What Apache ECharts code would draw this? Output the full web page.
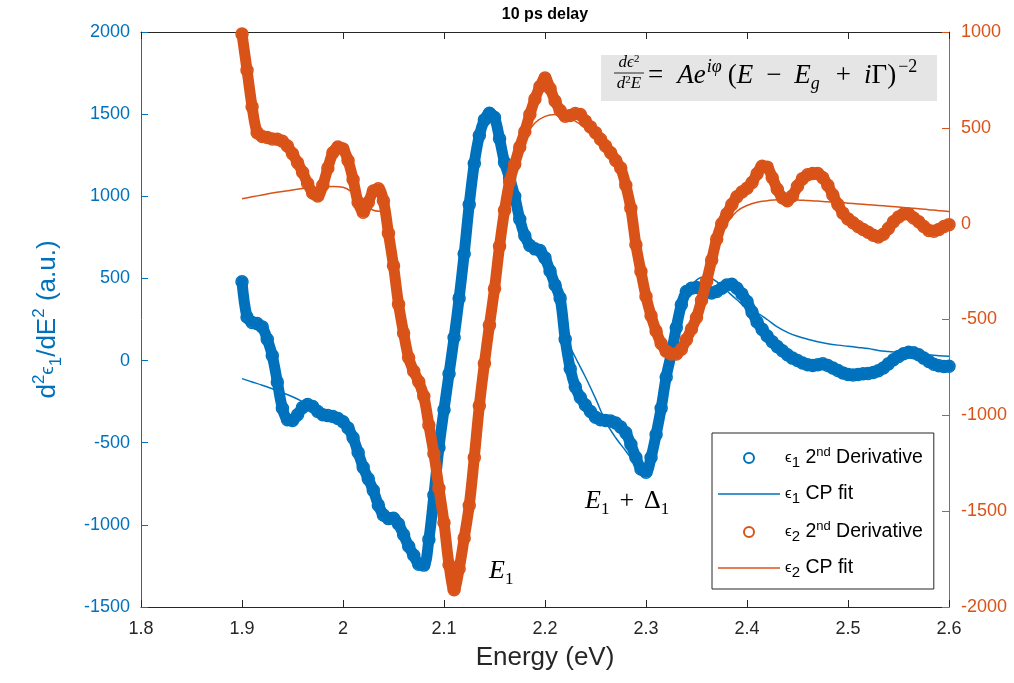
<!DOCTYPE html>
<html>
<head>
<meta charset="utf-8">
<title>10 ps delay</title>
<script src="https://cdn.jsdelivr.net/npm/echarts@6/dist/echarts.min.js"></script>
<style>
  html, body { margin: 0; padding: 0; background: #ffffff; }
  #chart { width: 1014px; height: 683px; }
</style>
</head>
<body>
<div id="chart"></div>
<script>
// ---- second-derivative spectra, one value every 5 meV from 1.900 eV ----
const dataStart = 1.9;
const dataStep = 0.005;

// d²ε1/dE² (left axis)
const eps1Deriv = [
  480, 265, 232, 225, 205, 130, 30, -130, -290, -360,
  -365, -330, -285, -268, -280, -310, -330, -335, -340, -352,
  -372, -410, -470, -560, -650, -720, -790, -880, -940, -962,
  -960, -995, -1060, -1130, -1185, -1240, -1245, -1090, -820, -530,
  -300, -80, 140, 380, 650, 950, 1200, 1370, 1465, 1505,
  1480, 1350, 1205, 1110, 1000, 860, 760, 700, 680, 670,
  625, 545, 460, 380, 130, -50, -160, -225, -270, -310,
  -345, -360, -365, -368, -380, -405, -440, -510, -590, -660,
  -680, -590, -450, -290, -100, 40, 200, 340, 420, 440,
  445, 440, 425, 412, 420, 440, 460, 465, 440, 405,
  360, 295, 235, 190, 150, 115, 85, 60, 35, 15,
  0, -15, -25, -30, -25, -20, -30, -45, -60, -75,
  -85, -88, -85, -80, -78, -72, -62, -45, -20, 5,
  25, 42, 50, 48, 35, 15, -5, -22, -32, -36,
  -35
];

// d²ε2/dE² (right axis)
const eps2Deriv = [
  990, 800, 610, 475, 455, 450, 442, 440, 430, 405,
  365, 318, 268, 210, 160, 145, 200, 290, 370, 400,
  390, 330, 230, 110, 60, 110, 170, 182, 120, -50,
  -220, -420, -570, -700, -770, -825, -900, -1050, -1200, -1380,
  -1560, -1780, -1910, -1800, -1640, -1470, -1220, -950, -730, -530,
  -340, -118, 70, 220, 310, 400, 480, 570, 650, 715,
  760, 705, 640, 590, 560, 565, 575, 570, 535, 505,
  475, 440, 405, 370, 330, 290, 200, 80, -110, -250,
  -380, -480, -560, -625, -665, -680, -680, -655, -605, -550,
  -490, -400, -300, -190, -80, 0, 50, 100, 140, 165,
  185, 215, 260, 300, 295, 240, 180, 135, 120, 145,
  195, 235, 255, 262, 262, 240, 200, 150, 100, 55,
  25, 5, -15, -30, -45, -60, -70, -55, -25, 10,
  35, 50, 50, 30, 10, -15, -35, -40, -30, -15,
  -5
];

// ---- critical-point fits, one value every 10 meV from 1.90 eV ----
const fitStart = 1.9;
const fitStep = 0.01;

const eps1Fit = [
  -110, -130, -150, -172, -195, -220, -250, -285, -320, -360,
  -400, -480, -600, -740, -880, -1000, -1110, -1200, -1240, -820,
  -300, 150, 680, 1200, 1460, 1470, 1230, 1000, 800, 660,
  560, 380, 150, 20, -100, -230, -370, -470, -550, -630,
  -670, -450, -120, 200, 400, 490, 510, 480, 425, 370,
  320, 290, 250, 205, 172, 148, 130, 115, 103, 94,
  87, 80, 73, 62, 55, 49, 44, 39, 35, 30,
  26
];

const eps2Fit = [
  130, 140, 150, 160, 168, 176, 183, 188, 192, 194,
  190, 160, 110, 70, 60, -220, -540, -800, -1000, -1250,
  -1600, -1880, -1620, -1220, -730, -330, 50, 300, 450, 525,
  560, 570, 560, 535, 500, 455, 395, 310, 170, -80,
  -380, -580, -690, -700, -610, -460, -280, -120, 0, 65,
  95, 112, 120, 125, 125, 124, 121, 118, 114, 111,
  107, 103, 99, 95, 91, 87, 82, 78, 73, 68,
  64
];

// ---- axes ----
const energyMin = 1.8, energyMax = 2.6, energyInterval = 0.1;
const leftMin = -1500, leftMax = 2000, leftInterval = 500;
const rightMin = -2000, rightMax = 1000, rightInterval = 500;

const seriesNames = ['ϵ1 2nd Derivative', 'ϵ1 CP fit', 'ϵ2 2nd Derivative', 'ϵ2 CP fit'];
const legendLabels = [
  '{g|ϵ}{b|1}{t| 2}{p|nd}{t| Derivative}',
  '{g|ϵ}{b|1}{t| CP fit}',
  '{g|ϵ}{b|2}{t| 2}{p|nd}{t| Derivative}',
  '{g|ϵ}{b|2}{t| CP fit}'
];

const BLUE = '#0072BD';
const ORANGE = '#D95319';
const INK = '#262626';
const SANS = '"Liberation Sans", Arial, Helvetica, sans-serif';
const SERIF = '"Liberation Serif", "Times New Roman", serif';

function toPairs(start, step, values) {
  return values.map((v, i) => [Math.round((start + i * step) * 1000) / 1000, v]);
}

function derivSeries(name, color, yAxisIndex, values, z) {
  return {
    name: name,
    type: 'line',
    xAxisIndex: 0,
    yAxisIndex: yAxisIndex,
    data: toPairs(dataStart, dataStep, values),
    smooth: 0.35,
    showSymbol: true,
    showAllSymbol: true,
    symbol: 'circle',
    symbolSize: 12,
    itemStyle: { color: 'rgba(255,255,255,0)', borderColor: color, borderWidth: 1.5 },
    lineStyle: { color: color, width: 11, cap: 'round', join: 'round' },
    emphasis: { disabled: true },
    silent: true,
    animation: false,
    z: z
  };
}

function fitSeries(name, color, yAxisIndex, values, z) {
  return {
    name: name,
    type: 'line',
    xAxisIndex: 0,
    yAxisIndex: yAxisIndex,
    data: toPairs(fitStart, fitStep, values),
    smooth: 0.4,
    symbol: 'none',
    showSymbol: false,
    itemStyle: { color: color },
    lineStyle: { color: color, width: 1.5 },
    emphasis: { disabled: true },
    silent: true,
    animation: false,
    z: z
  };
}

const tickLabel = (color) => ({
  color: color, fontFamily: SANS, fontSize: 18, showMinLabel: true, showMaxLabel: true
});

const chart = echarts.init(document.getElementById('chart'), null, { renderer: 'canvas' });

chart.setOption({
  animation: false,
  backgroundColor: '#ffffff',
  grid: { left: 141, right: 65, top: 32, bottom: 76, containLabel: false, outerBoundsMode: 'none' },
  xAxis: [
    {
      type: 'value', position: 'bottom',
      min: energyMin, max: energyMax, interval: energyInterval,
      axisLine: { show: true, onZero: false, lineStyle: { color: INK, width: 1 } },
      axisTick: { show: true, inside: true, length: 7, lineStyle: { color: INK, width: 1 } },
      axisLabel: Object.assign(tickLabel(INK), { margin: 13, formatter: v => String(+v.toFixed(1)) }),
      splitLine: { show: false },
      name: 'Energy (eV)', nameLocation: 'middle', nameGap: 38,
      nameTextStyle: { color: INK, fontFamily: SANS, fontSize: 26 }
    },
    {
      type: 'value', position: 'top',
      min: energyMin, max: energyMax, interval: energyInterval,
      axisLine: { show: true, onZero: false, lineStyle: { color: INK, width: 1 } },
      axisTick: { show: true, inside: true, length: 7, lineStyle: { color: INK, width: 1 } },
      axisLabel: { show: false },
      splitLine: { show: false }
    }
  ],
  yAxis: [
    {
      type: 'value', position: 'left',
      min: leftMin, max: leftMax, interval: leftInterval,
      axisLine: { show: true, onZero: false, lineStyle: { color: BLUE, width: 1 } },
      axisTick: { show: true, inside: true, length: 7, lineStyle: { color: BLUE, width: 1 } },
      axisLabel: Object.assign(tickLabel(BLUE), { margin: 11, formatter: v => String(v) }),
      splitLine: { show: false },
      name: '{n|d}{sp|2}{e|ϵ}{sb|1}{n|/dE}{sp|2}{n| (a.u.)}',
      nameLocation: 'middle', nameRotate: 90, nameGap: 76,
      nameTextStyle: {
        color: BLUE, fontFamily: SANS, fontSize: 26,
        rich: {
          n: { color: BLUE, fontFamily: SANS, fontSize: 26, lineHeight: 34 },
          e: { color: BLUE, fontFamily: SANS, fontSize: 19, lineHeight: 34 },
          sp: { color: BLUE, fontFamily: SANS, fontSize: 17, lineHeight: 17, verticalAlign: 'top' },
          sb: { color: BLUE, fontFamily: SANS, fontSize: 17, lineHeight: 17, verticalAlign: 'bottom' }
        }
      }
    },
    {
      type: 'value', position: 'right',
      min: rightMin, max: rightMax, interval: rightInterval,
      axisLine: { show: true, onZero: false, lineStyle: { color: ORANGE, width: 1 } },
      axisTick: { show: true, inside: true, length: 7, lineStyle: { color: ORANGE, width: 1 } },
      axisLabel: Object.assign(tickLabel(ORANGE), { margin: 12, formatter: v => String(v) }),
      splitLine: { show: false }
    }
  ],
  legend: {
    show: true,
    orient: 'vertical',
    left: 712, top: 433,
    padding: [13, 11, 9, 6],
    itemGap: 14,
    itemWidth: 62,
    itemHeight: 10,
    align: 'left',
    selectedMode: false,
    backgroundColor: '#ffffff',
    borderColor: INK,
    borderWidth: 1,
    borderRadius: 0,
    formatter: name => legendLabels[seriesNames.indexOf(name)],
    textStyle: {
      color: '#000000', fontFamily: SANS, fontSize: 19.5,
      rich: {
        t: { color: '#000000', fontFamily: SANS, fontSize: 19.5, lineHeight: 24 },
        g: { color: '#000000', fontFamily: SANS, fontSize: 15, lineHeight: 24 },
        b: { color: '#000000', fontFamily: SANS, fontSize: 15, lineHeight: 15, verticalAlign: 'bottom' },
        p: { color: '#000000', fontFamily: SANS, fontSize: 13, lineHeight: 13, verticalAlign: 'top' }
      }
    },
    data: [
      { name: seriesNames[0], icon: 'emptyCircle', itemStyle: { color: BLUE, borderColor: BLUE, borderWidth: 2 } },
      { name: seriesNames[1], icon: 'path://M0,0H62V1.6H0Z', itemStyle: { color: BLUE, borderWidth: 0 } },
      { name: seriesNames[2], icon: 'emptyCircle', itemStyle: { color: ORANGE, borderColor: ORANGE, borderWidth: 2 } },
      { name: seriesNames[3], icon: 'path://M0,0H62V1.6H0Z', itemStyle: { color: ORANGE, borderWidth: 0 } }
    ]
  },
  series: [
    derivSeries(seriesNames[0], BLUE, 0, eps1Deriv, 2),
    fitSeries(seriesNames[1], BLUE, 0, eps1Fit, 3),
    derivSeries(seriesNames[2], ORANGE, 1, eps2Deriv, 4),
    fitSeries(seriesNames[3], ORANGE, 1, eps2Fit, 5)
  ]
});

// ---- title, model equation and critical-point labels ----
function serifStyles(size, subSize, opPad, eqPad) {
  return {
    i: { fontFamily: SERIF, fontStyle: 'italic', fontSize: size, lineHeight: size + 8, color: '#000' },
    r: { fontFamily: SERIF, fontSize: size, lineHeight: size + 8, color: '#000' },
    eq: { fontFamily: SERIF, fontSize: size, lineHeight: size + 8, color: '#000', padding: [0, eqPad, 0, 0] },
    op: { fontFamily: SERIF, fontSize: size, lineHeight: size + 8, color: '#000', padding: [0, opPad, 0, opPad] },
    sp: { fontFamily: SERIF, fontStyle: 'italic', fontSize: subSize, lineHeight: subSize, verticalAlign: 'top', color: '#000', padding: [0, 6, 0, 1] },
    spr: { fontFamily: SERIF, fontSize: subSize, lineHeight: subSize, verticalAlign: 'top', color: '#000', padding: [0, 0, 0, 2] },
    sb: { fontFamily: SERIF, fontStyle: 'italic', fontSize: subSize, lineHeight: subSize, verticalAlign: 'bottom', color: '#000', padding: [0, 3, 0, 0] },
    sbr: { fontFamily: SERIF, fontSize: subSize, lineHeight: subSize, verticalAlign: 'bottom', color: '#000' },
    fi: { fontFamily: SERIF, fontStyle: 'italic', fontSize: 17, lineHeight: 19, color: '#000' },
    fs: { fontFamily: SERIF, fontSize: 11, lineHeight: 11, verticalAlign: 'top', color: '#000' }
  };
}
const formulaRich = serifStyles(27, 18, 13, 14);
const labelRich = serifStyles(26, 17, 10, 10);

function drawOverlay() {
  const e1 = chart.convertToPixel({ xAxisIndex: 0, yAxisIndex: 0 }, [2.1446, -1284]);
  const e1d = chart.convertToPixel({ xAxisIndex: 0, yAxisIndex: 0 }, [2.2396, -858]);
  chart.setOption({
    graphic: [
      {
        type: 'text', x: 545, y: 15, silent: true,
        style: {
          text: '10 ps delay', fontFamily: SANS, fontWeight: 'bold', fontSize: 16,
          fill: '#000', align: 'center', verticalAlign: 'middle'
        }
      },
      {
        type: 'group', silent: true,
        children: [
          { type: 'rect', shape: { x: 601, y: 55, width: 336, height: 46 }, style: { fill: '#e5e5e5' } },
          {
            type: 'text', x: 629, y: 63,
            style: { text: '{fi|dϵ}{fs|2}', rich: formulaRich, align: 'center', verticalAlign: 'middle' }
          },
          { type: 'line', shape: { x1: 614, y1: 73, x2: 644, y2: 73 }, style: { stroke: '#111', lineWidth: 0.9 } },
          {
            type: 'text', x: 629, y: 84,
            style: { text: '{fi|d}{fs|2}{fi|E}', rich: formulaRich, align: 'center', verticalAlign: 'middle' }
          },
          {
            type: 'text', x: 648, y: 76,
            style: {
              text: '{eq|=}{i|Ae}{sp|iφ}{r|(}{i|E}{op|−}{i|E}{sb|g}{op|+}{i|i}{r|Γ)}{spr|−2}',
              rich: formulaRich, align: 'left', verticalAlign: 'middle'
            }
          }
        ]
      },
      {
        type: 'text', x: e1[0], y: e1[1], silent: true,
        style: { text: '{i|E}{sbr|1}', rich: labelRich, align: 'left', verticalAlign: 'middle' }
      },
      {
        type: 'text', x: e1d[0], y: e1d[1], silent: true,
        style: { text: '{i|E}{sbr|1}{op|+}{r|Δ}{sbr|1}', rich: labelRich, align: 'left', verticalAlign: 'middle' }
      }
    ]
  });
}
drawOverlay();
</script>
</body>
</html>
